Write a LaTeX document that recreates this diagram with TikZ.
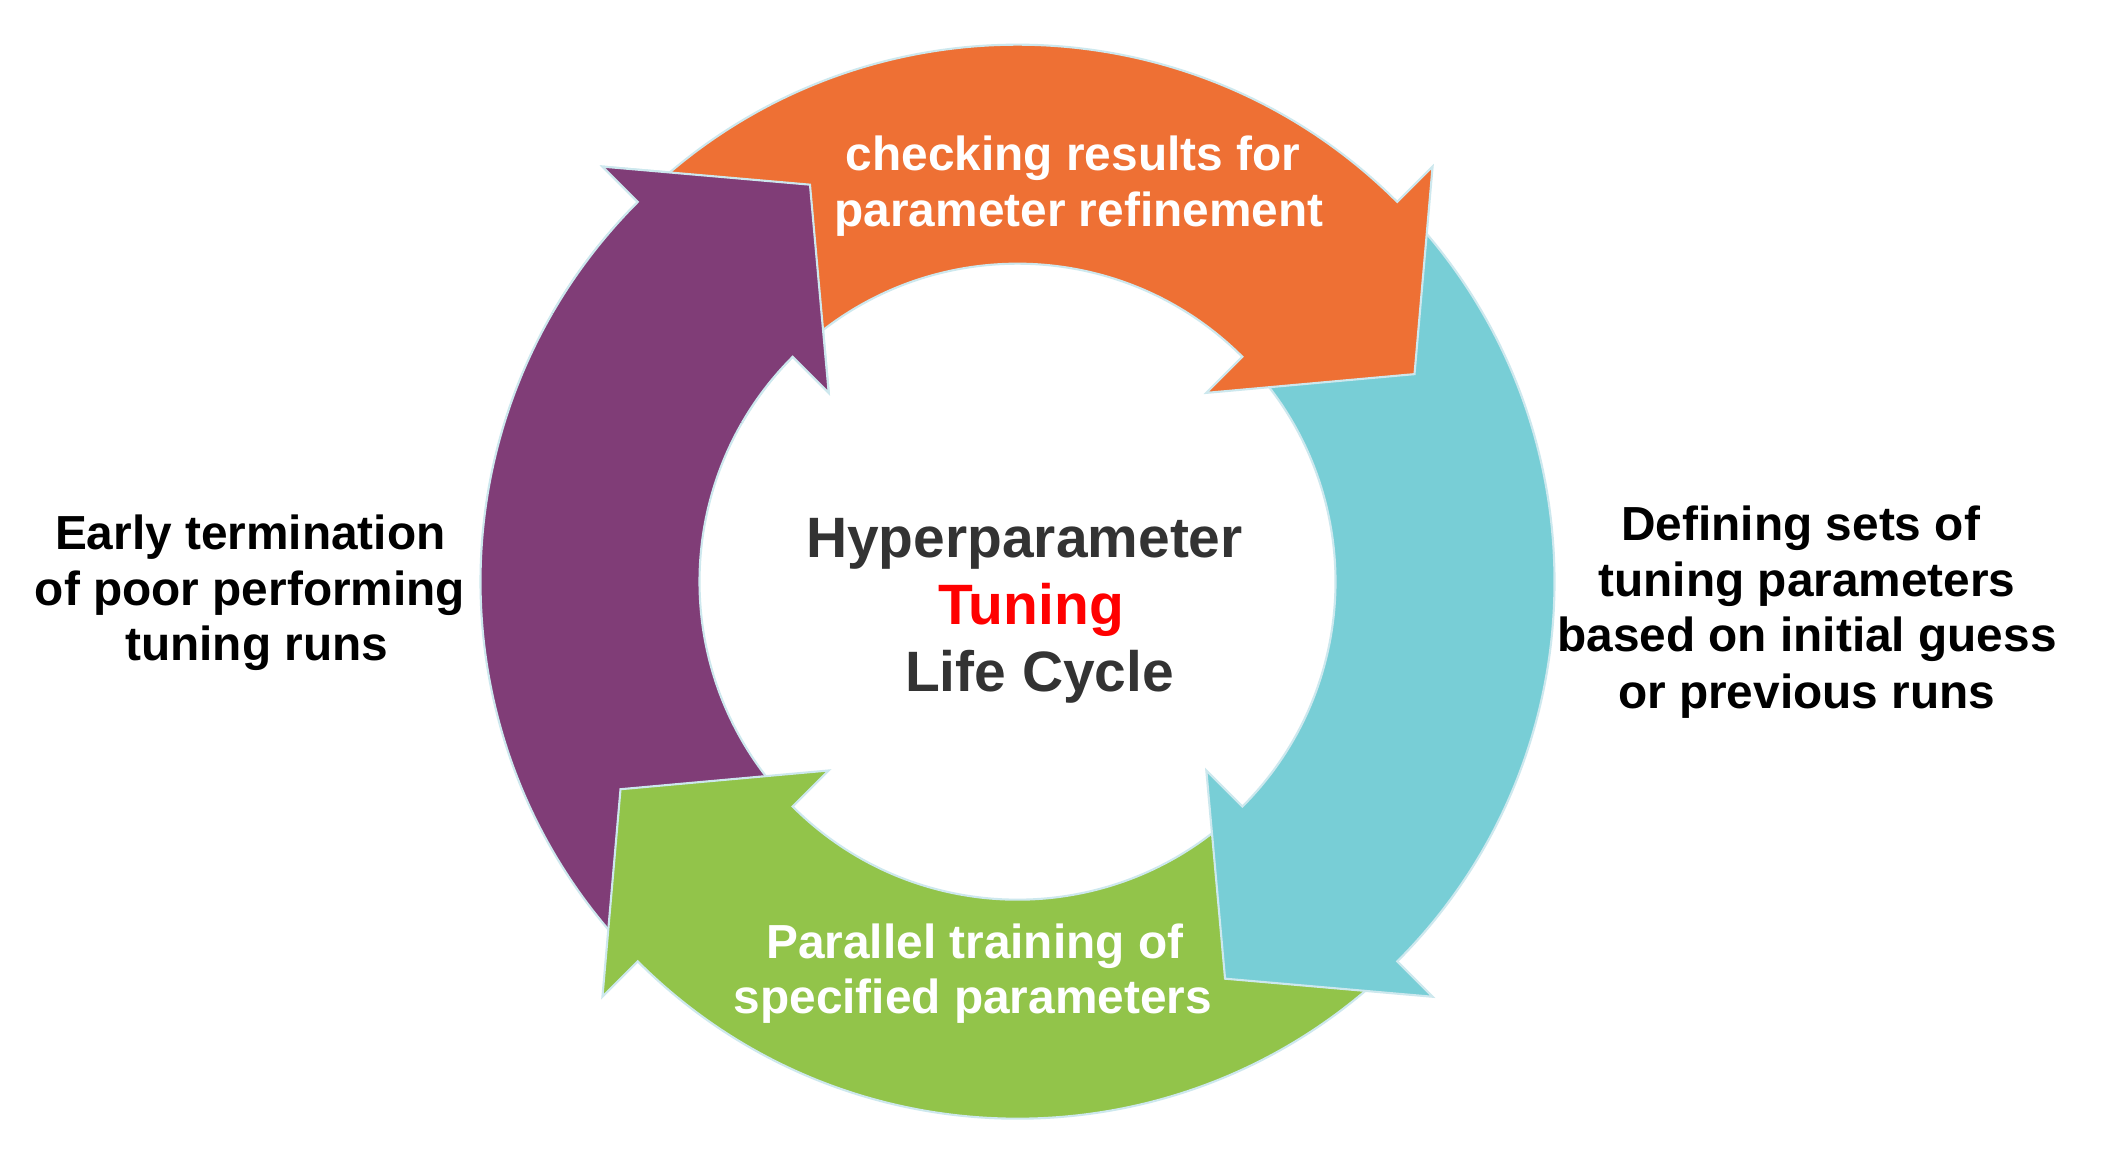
\documentclass[tikz,border=0pt]{standalone}
\usepackage{fontspec}
\setmainfont{Liberation Sans}
\definecolor{orangeA}{RGB}{238,112,52}
\definecolor{cyanA}{RGB}{120,206,214}
\definecolor{greenA}{RGB}{146,196,74}
\definecolor{purpleA}{RGB}{128,61,119}
\definecolor{edgeA}{RGB}{205,232,238}
\definecolor{darkA}{RGB}{51,51,51}
\begin{document}
\begin{tikzpicture}[
  arrowpath/.style={insert path={(#1+90:5.37) arc[start angle=#1+90, end angle=#1, radius=5.37]
      -- (#1:5.87) -- (#1-17.4:4.48) -- (#1:2.67) -- (#1:3.18)
      arc[start angle=#1, end angle=#1+90, radius=3.18] -- cycle}},
  arrowshape/.style={draw=edgeA, line width=0.6pt, line join=miter},
  arrowtext/.style={anchor=base, inner sep=0pt, text=white, font=\fontsize{13.6}{15.9}\selectfont\bfseries},
  sidetext/.style={anchor=base, inner sep=0pt, text=black, font=\fontsize{13.6}{15.9}\selectfont\bfseries},
  centertext/.style={anchor=base, inner sep=0pt, text=darkA, font=\fontsize{16.2}{18.9}\selectfont\bfseries}
]
\useasboundingbox (0,0) rectangle (21.11,11.53);
\fill[white] (0,0) rectangle (21.11,11.53);
\begin{scope}[shift={(10.175,5.713)}]
  \path[arrowshape, fill=purpleA, arrowpath=135];
  \path[arrowshape, fill=greenA, arrowpath=-135];
  \path[arrowshape, fill=cyanA, arrowpath=-45];
  \path[arrowshape, fill=orangeA, arrowpath=45];
  \begin{scope}
    \clip (0,0) -- (100:7) arc[start angle=100, end angle=150, radius=7] -- cycle;
    \path[arrowshape, fill=purpleA, arrowpath=135];
  \end{scope}
\end{scope}
% texts on arrows
\node[arrowtext] (or1) at (10.73,9.824) {checking results for};
\node[arrowtext] (or2) at (10.79,9.263) {parameter refinement};
\node[arrowtext] (gr1) at (9.748,1.947) {Parallel training of};
\node[arrowtext] (gr2) at (9.728,1.397) {specified parameters};
% left text
\node[sidetext] (lt1) at (2.503,6.03) {Early termination};
\node[sidetext] (lt2) at (2.50,5.473) {of poor performing};
\node[sidetext] (lt3) at (2.567,4.923) {tuning runs};
% right text
\node[sidetext] (rt1) at (18.007,6.123) {Defining sets of};
\node[sidetext] (rt2) at (18.07,5.563) {tuning parameters};
\node[sidetext] (rt3) at (18.069,5.013) {based on initial guess};
\node[sidetext] (rt4) at (18.066,4.447) {or previous runs};
% center text
\node[centertext] (c1) at (10.245,5.957) {Hyperparameter};
\node[centertext, text=red] (c2) at (10.31,5.28) {Tuning};
\node[centertext] (c3) at (10.395,4.613) {Life Cycle};
\end{tikzpicture}
\end{document}
